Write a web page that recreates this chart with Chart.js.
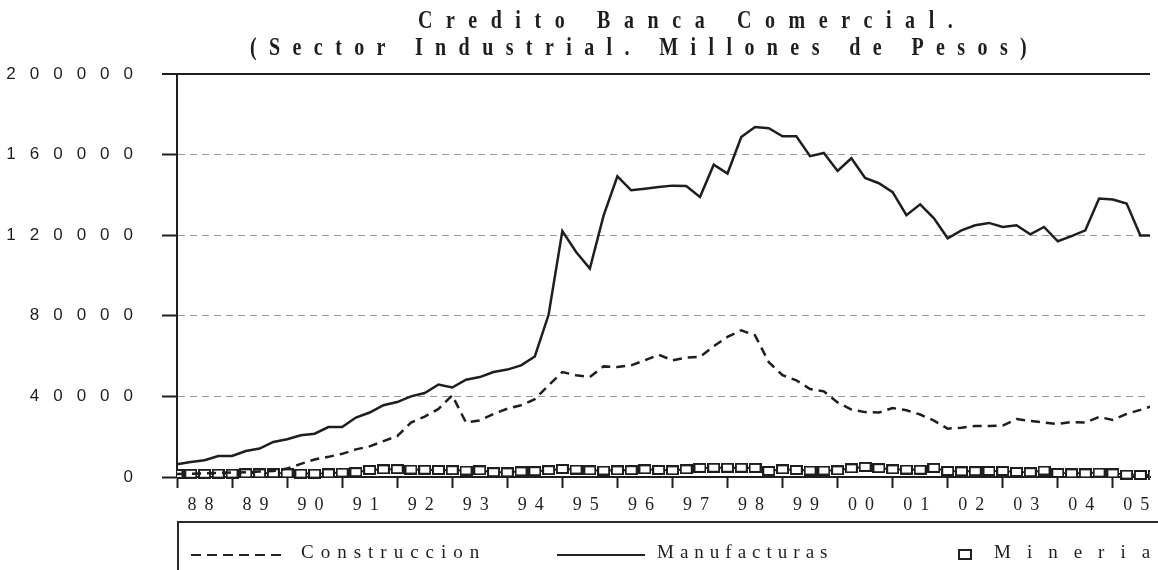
<!DOCTYPE html>
<html>
<head>
<meta charset="utf-8">
<script src="https://cdn.jsdelivr.net/npm/chart.js@4.4.1/dist/chart.umd.min.js"></script>
<style>
    body { margin: 0; background: #fff; overflow: hidden; }
    #wrap { position: relative; width: 1158px; height: 570px; overflow: hidden; background: #fff; }
    #chart { position: absolute; left: 0; top: 0; }
    .title { position: absolute; white-space: nowrap; font-family: "Liberation Serif", serif; font-weight: bold; color: #1e1e1e; font-size: 25px; transform: scaleX(0.8); transform-origin: left top; }
    #legend { position: absolute; left: 177px; top: 521px; width: 1100px; height: 70px; border: 2px solid #2a2a2a; box-sizing: border-box; }
    .item { position: absolute; white-space: nowrap; font-family: "Liberation Serif", serif; font-size: 19px; color: #1e1e1e; top: 18px; }
    .sample { position: absolute; top: 30px; }
</style>
</head>
<body>
<div id="wrap">
    <canvas id="chart" width="1158" height="570"></canvas>
    <div class="title" style="left:418px; top:6px; letter-spacing:17px;">Credito Banca Comercial.</div>
    <div class="title" style="left:250px; top:33px; letter-spacing:15.5px;">(Sector Industrial. Millones de Pesos)</div>
    <div id="legend">
        <svg class="sample" style="left:12px" width="90" height="4"><line x1="0" y1="2" x2="90" y2="2" stroke="#222" stroke-width="2" stroke-dasharray="10 6"/></svg>
        <div class="item" style="left:122px; letter-spacing:7px;">Construccion</div>
        <svg class="sample" style="left:378px" width="88" height="4"><line x1="0" y1="2" x2="88" y2="2" stroke="#222" stroke-width="2"/></svg>
        <div class="item" style="left:478px; letter-spacing:6px;">Manufacturas</div>
        <div style="position:absolute; left:779px; top:26px; width:10px; height:7px; border:2px solid #222;"></div>
        <div class="item" style="left:815px; letter-spacing:16px;">Mineria</div>
    </div>
</div>
<script>
// Year labels (one per year, quarterly data underneath)
const years = ['88', '89', '90', '91', '92', '93', '94', '95', '96', '97', '98', '99', '00', '01', '02', '03', '04', '05'];
const yTicks = [0, 40000, 80000, 120000, 160000, 200000];

// Quarterly series, 1988 Q1 onwards (millones de pesos)
const construccion = [
    1500, 1600, 1800, 2000, 2200, 2400, 2700, 3000,
    4200, 6500, 8700, 10000, 11500, 13700, 15200, 17800,
    20300, 27000, 30000, 33800, 40500, 27000, 28100, 31300,
    33900, 35600, 38600, 45500, 52100, 50500, 49600, 54900,
    54600, 55400, 57900, 60700, 57900, 59300, 59600, 64900,
    69500, 72800, 70300, 57000, 50500, 48000, 43700, 42500,
    37000, 33500, 32200, 32000, 34200, 33100, 31000, 28000,
    24000, 24500, 25300, 25300, 25500, 28800, 27800, 27000,
    26300, 27300, 27000, 29800, 28300, 31300, 33300, 35500
];
const manufacturas = [
    6300, 7400, 8300, 10400, 10400, 12900, 14100, 17400,
    18700, 20700, 21500, 24800, 24800, 29500, 32000, 35600,
    37200, 40000, 41700, 45900, 44400, 48300, 49600, 52100,
    53300, 55400, 59800, 80500, 122000, 111700, 103400, 129800,
    149200, 142300, 143100, 143900, 144600, 144400, 139000, 155000,
    150600, 168700, 173700, 173100, 169100, 169100, 159200, 160800,
    151900, 158200, 148400, 145800, 141400, 129900, 135300, 128400,
    118500, 122400, 124900, 126100, 124100, 124900, 120400, 124100,
    117000, 119500, 122400, 138200, 137700, 135700, 119900, 119900
];
const mineria = [
    1500, 1600, 1600, 1700, 1700, 1800, 1800, 1900,
    1800, 1700, 1700, 1800, 2200, 2400, 3500, 3800,
    3900, 3700, 3600, 3500, 3400, 3200, 3300, 2400,
    2300, 2800, 2900, 3400, 4000, 3700, 3300, 3200,
    3300, 3400, 3800, 3500, 3300, 3800, 4500, 4600,
    4600, 4600, 4500, 3000, 3800, 3500, 3200, 3200,
    3300, 4300, 5000, 4400, 3800, 3700, 3600, 4500,
    3000, 2800, 2900, 3000, 3000, 2500, 2400, 3200,
    2000, 1800, 1800, 2200, 1800, 1200, 1000, 1000
];

const ink = '#1e1e1e';
const toPoints = arr => arr.map((v, i) => ({ x: i, y: v }));

// Hollow rectangle marker for Mineria
const box = document.createElement('canvas');
box.width = 13;
box.height = 10;
const bctx = box.getContext('2d');
bctx.fillStyle = '#fff';
bctx.fillRect(1, 1, 11, 8);
bctx.strokeStyle = ink;
bctx.lineWidth = 2;
bctx.strokeRect(1, 1, 11, 8);

// Wider letter spacing on the axis labels, like the scanned original
const spacedLabels = {
    id: 'spacedLabels',
    beforeDraw(chart) {
        [['y', '14px'], ['xl', '8px']].forEach(([id, sp]) => {
            const s = chart.scales[id];
            if (!s || s._spaced) return;
            const orig = s.drawLabels;
            s.drawLabels = function (area) {
                this.ctx.save();
                this.ctx.letterSpacing = sp;
                orig.call(this, area);
                this.ctx.restore();
            };
            s._spaced = true;
        });
    }
};

const xMax = 70.7;

new Chart(document.getElementById('chart'), {
    type: 'line',
    data: {
        datasets: [
            {
                label: 'Construccion',
                data: toPoints(construccion),
                borderColor: ink,
                borderWidth: 2.5,
                borderDash: [9, 6],
                pointRadius: 0,
                tension: 0
            },
            {
                label: 'Manufacturas',
                data: toPoints(manufacturas),
                borderColor: ink,
                borderWidth: 2.5,
                pointRadius: 0,
                tension: 0
            },
            {
                label: 'Mineria',
                data: toPoints(mineria),
                borderColor: ink,
                borderWidth: 2,
                pointStyle: box,
                pointRadius: 6,
                clip: { left: 0, top: 0, right: 0, bottom: 8 },
                tension: 0
            }
        ]
    },
    options: {
        responsive: false,
        animation: false,
        layout: { padding: { top: 74, bottom: 52, left: 0, right: 0 } },
        plugins: {
            legend: { display: false },
            title: { display: false },
            tooltip: { enabled: false }
        },
        scales: {
            x: {
                type: 'linear',
                position: 'bottom',
                weight: 0,
                min: 0,
                max: xMax,
                afterBuildTicks: axis => { axis.ticks = years.map((y, i) => ({ value: i * 4 })); },
                afterFit: axis => { axis.height = 11; },
                ticks: { display: false },
                grid: { drawOnChartArea: false, tickLength: 11, tickWidth: 2, tickColor: ink },
                border: { color: ink, width: 2 }
            },
            xl: {
                type: 'linear',
                position: 'bottom',
                weight: 1,
                min: 0,
                max: xMax,
                afterBuildTicks: axis => { axis.ticks = years.map((y, i) => ({ value: i * 4 + 2 })); },
                afterFit: axis => { axis.height = 30; },
                ticks: {
                    autoSkip: false,
                    maxRotation: 0,
                    padding: 6,
                    color: ink,
                    font: { family: "'Liberation Serif', serif", size: 18 },
                    callback: (v, i) => years[i]
                },
                grid: { display: false, drawTicks: false },
                border: { display: false }
            },
            y: {
                min: 0,
                max: 200000,
                afterBuildTicks: axis => { axis.ticks = yTicks.map(v => ({ value: v })); },
                afterFit: axis => { axis.width = 177; },
                ticks: {
                    padding: 15,
                    color: ink,
                    font: { family: "'Liberation Sans', Arial, sans-serif", size: 17 },
                    callback: v => String(v)
                },
                grid: {
                    tickLength: 15,
                    tickWidth: 2,
                    tickColor: ink,
                    color: ctx => ctx.tick.value === 0 ? 'rgba(0,0,0,0)' : (ctx.tick.value === 200000 ? ink : '#9a9a9a'),
                    lineWidth: ctx => ctx.tick.value === 200000 ? 2 : 1
                },
                border: {
                    color: ink,
                    width: 2,
                    dash: ctx => (ctx.tick && ctx.tick.value > 0 && ctx.tick.value < 200000) ? [7, 5] : []
                }
            }
        }
    },
    plugins: [spacedLabels]
});
</script>
</body>
</html>
